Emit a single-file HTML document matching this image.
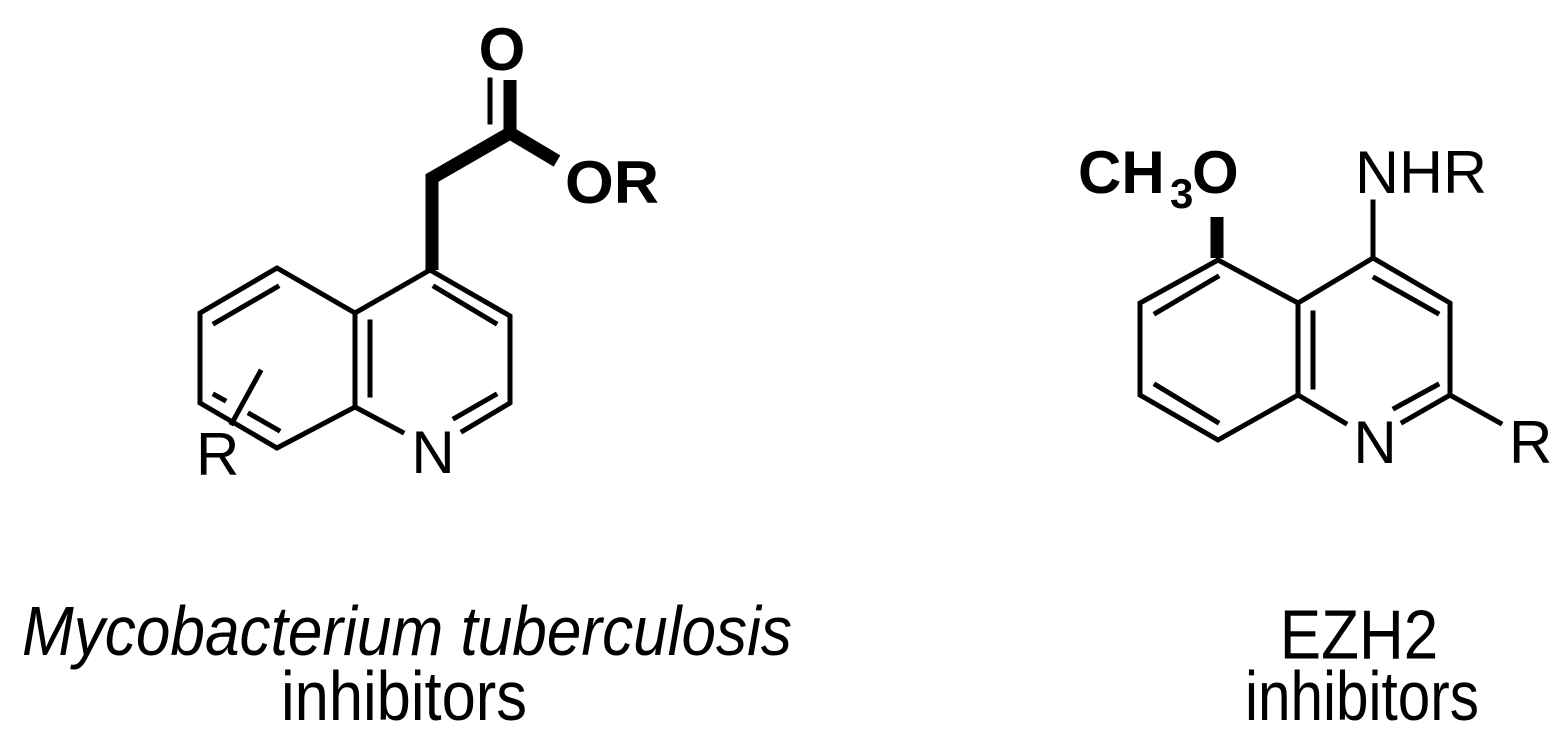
<!DOCTYPE html>
<html><head><meta charset="utf-8"><style>
html,body{margin:0;padding:0;background:#fff;}
svg{display:block;}
</style></head><body>
<svg width="1568" height="734" viewBox="0 0 1568 734" xmlns="http://www.w3.org/2000/svg">
<g stroke="#000" stroke-width="5" fill="none" stroke-linecap="square">
<polyline points="430,270 510,316 510,403 463,431"/>
<polyline points="430,270 355,313 355,407 402,432"/>
<polyline points="355,313 277,268 200,313 200,403 277,448 355,407"/>
<line x1="215" y1="323" x2="277" y2="287"/>
<line x1="215" y1="395" x2="224" y2="400"/>
<line x1="250" y1="414" x2="278" y2="430"/>
<line x1="370" y1="322" x2="370" y2="395"/>
<line x1="435" y1="287" x2="495" y2="323"/>
<line x1="495" y1="395" x2="455" y2="418"/>
<line x1="260" y1="372" x2="232" y2="423"/>
<line x1="490" y1="80" x2="490" y2="122"/>
<polyline points="1218,260 1298,303 1373,258 1450,303 1450,395 1403,422"/>
<polyline points="1298,303 1298,395 1345,423"/>
<polyline points="1218,260 1140,303 1140,395 1218,440 1298,395"/>
<line x1="1450" y1="395" x2="1500" y2="423"/>
<line x1="1217" y1="277" x2="1156" y2="313"/>
<line x1="1156" y1="385" x2="1217" y2="422"/>
<line x1="1313" y1="313" x2="1313" y2="387"/>
<line x1="1375" y1="278" x2="1437" y2="313"/>
<line x1="1437" y1="385" x2="1395" y2="408"/>
<line x1="1373" y1="202" x2="1373" y2="258"/>
</g>
<g stroke="#000" stroke-width="13" fill="none" stroke-linejoin="miter">
<polyline points="432,270 432,178 510,133 557,161"/>
<line x1="510" y1="80" x2="510" y2="133"/>
<line x1="1217" y1="217" x2="1217" y2="258"/>
</g>
<g font-family="Liberation Sans, Arial, sans-serif" fill="#000">
<text x="502" y="70" font-size="60" font-weight="bold" text-anchor="middle">O</text>
<text x="565" y="203" font-size="60" font-weight="bold" textLength="94" lengthAdjust="spacingAndGlyphs">OR</text>
<text x="433" y="473" font-size="60" text-anchor="middle">N</text>
<text x="196" y="475" font-size="60">R</text>
<text x="1078" y="193" font-size="60" font-weight="bold">CH</text>
<text x="1170" y="208" font-size="42" font-weight="bold">3</text>
<text x="1192" y="193" font-size="60" font-weight="bold">O</text>
<text x="1355" y="193" font-size="60" textLength="132" lengthAdjust="spacingAndGlyphs">NHR</text>
<text x="1375" y="463" font-size="60" text-anchor="middle">N</text>
<text x="1509" y="463" font-size="60">R</text>
<g transform="scale(1,1.12)">
<text x="22" y="585" font-size="62" font-style="italic" textLength="770" lengthAdjust="spacingAndGlyphs">Mycobacterium tuberculosis</text>
<text x="281" y="643" font-size="62" textLength="246" lengthAdjust="spacingAndGlyphs">inhibitors</text>
<text x="1359" y="588" font-size="62" text-anchor="middle">EZH2</text>
<text x="1245" y="643" font-size="62" textLength="234" lengthAdjust="spacingAndGlyphs">inhibitors</text>
</g>
</g>
</svg>
</body></html>
